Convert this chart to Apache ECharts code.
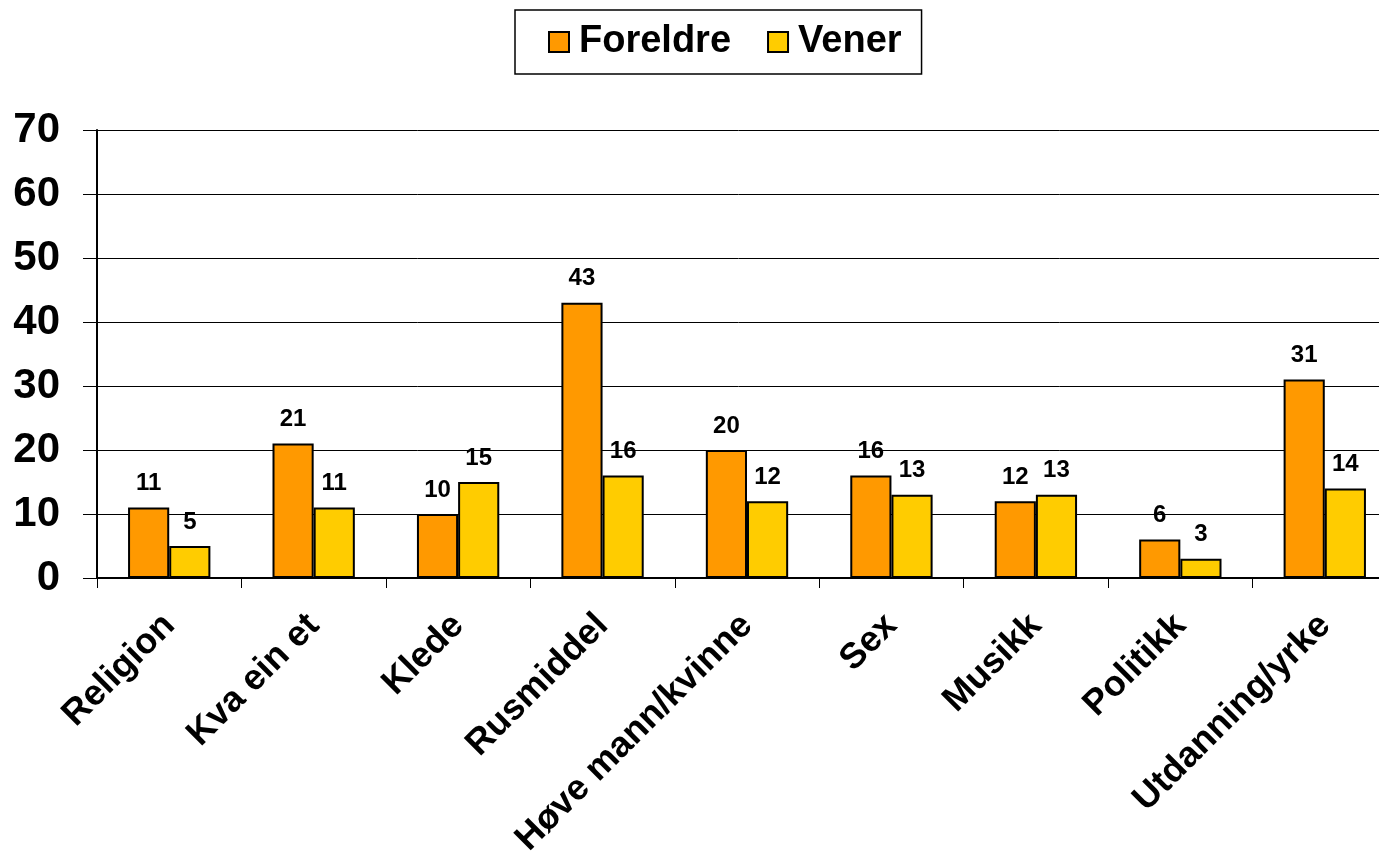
<!DOCTYPE html>
<html><head><meta charset="utf-8">
<script src="https://cdn.jsdelivr.net/npm/echarts@6/dist/echarts.min.js"></script>
<style>html,body{margin:0;padding:0;background:#fff}#c{width:1379px;height:855px}</style>
</head><body><div id="c"></div>
<script>
const categories = ['Religion','Kva ein et','Klede','Rusmiddel','Høve mann/kvinne','Sex','Musikk','Politikk','Utdanning/yrke'];
const foreldre = [11,21,10,43,20,16,12,6,31];
const vener = [5,11,15,16,12,13,13,3,14];
const yTicks = {min:0, max:70, interval:10};

const font = '"Liberation Sans", Arial, sans-serif';
const chart = echarts.init(document.getElementById('c'));
const lbl = {show:true, position:'top', distance:12, fontSize:24, fontWeight:'bold', color:'#000', fontFamily:font};
chart.setOption({
  animation:false,
  textStyle:{fontFamily:font},
  legend:{
    left:515, top:10, padding:[12,20,12,33], itemGap:36,
    borderColor:'#000', borderWidth:1.5,
    itemWidth:20, itemHeight:20, icon:'rect',
    textStyle:{fontSize:38, lineHeight:40, fontWeight:'bold', color:'#000', fontFamily:font, padding:[0,0,0,5]}
  },
  grid:{left:97, top:130, width:1300, bottom:277, containLabel:false, outerBoundsMode:'none'},
  xAxis:{
    type:'category', data:categories,
    axisLine:{lineStyle:{color:'#000', width:2}},
    axisTick:{show:true, length:10, lineStyle:{color:'#000', width:1}},
    axisLabel:{rotate:45, fontSize:36, fontWeight:'bold', color:'#000', margin:42, interval:0, fontFamily:font},
    splitLine:{show:false}
  },
  yAxis:{
    type:'value', min:yTicks.min, max:yTicks.max, interval:yTicks.interval,
    axisLine:{show:true, lineStyle:{color:'#000', width:2}},
    axisTick:{show:true, length:14, lineStyle:{color:'#000', width:1}},
    axisLabel:{fontSize:42, fontWeight:'bold', color:'#000', margin:37, fontFamily:font},
    splitLine:{show:true, lineStyle:{color:'#000', width:1}}
  },
  series:[
    {name:'Foreldre', type:'bar', data:foreldre, barGap:'0%', barCategoryGap:'43%',
     itemStyle:{color:'#FF9900', borderColor:'#000', borderWidth:2}, label:lbl},
    {name:'Vener', type:'bar', data:vener, barGap:'0%', barCategoryGap:'43%',
     itemStyle:{color:'#FFCC00', borderColor:'#000', borderWidth:2}, label:lbl}
  ]
});
</script></body></html>
